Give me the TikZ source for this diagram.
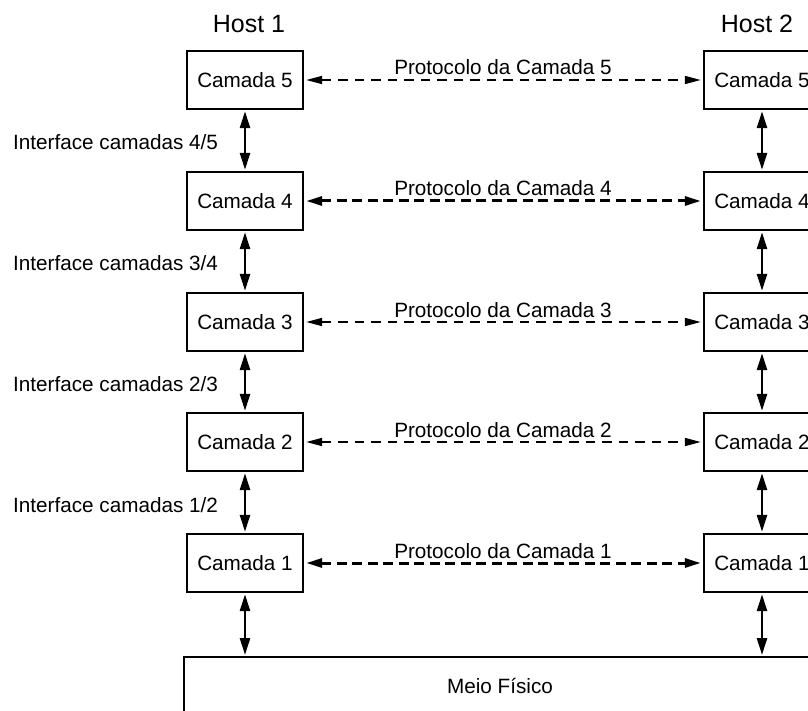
\documentclass[tikz,border=0pt]{standalone}
\usepackage{fontspec}
\setmainfont{Liberation Sans}
\usetikzlibrary{arrows.meta}
\newcommand\txtfs{\fontsize{20.7}{24}\selectfont}
\newcommand\hostfs{\fontsize{25}{29}\selectfont}
\tikzset{
  layer/.style={draw, line width=2.4pt, minimum width=116pt, minimum height=58pt, inner sep=0pt, font=\txtfs},
  vert/.style={line width=2.6pt, {Triangle[length=17pt,width=10pt]}-{Triangle[length=17pt,width=10pt]}, shorten <=1pt, shorten >=1pt},
  protothin/.style={line width=1.6pt, dash pattern=on 9.5pt off 7pt, {Triangle[length=16pt,width=8pt]}-{Triangle[length=16pt,width=8pt]}, shorten <=2pt, shorten >=2pt},
  protothick/.style={line width=3pt, dash pattern=on 10pt off 5.5pt, {Triangle[length=16pt,width=9pt]}-{Triangle[length=16pt,width=9pt]}, shorten <=2pt, shorten >=2pt},
  protolabel/.style={font=\txtfs, anchor=base, inner sep=0pt},
  iflabel/.style={font=\txtfs, anchor=west, inner sep=0pt},
  hostlabel/.style={font=\hostfs, anchor=base, inner sep=0pt}
}
\begin{document}
\begin{tikzpicture}[x=1pt, y=-1pt]
\useasboundingbox (0,0) rectangle (808,711);
\clip (0,0) rectangle (808,711);
\fill[white] (0,0) rectangle (808,711);

\node[hostlabel] (h1) at (249,33) {Host 1};
\node[hostlabel] (h2) at (757,33) {Host 2};

\foreach \n/\y in {5/80,4/201,3/322,2/442,1/563}{
  \node[layer] (l\n) at (245,\y) {Camada \n};
  \node[layer] (r\n) at (762,\y) {Camada \n};
}

\node[draw, line width=2.4pt, minimum width=632pt, minimum height=100pt, inner sep=0pt, anchor=north] (meio) at (500,656) {};
\node[font=\txtfs, inner sep=0pt] (meiotxt) at (500,686) {Meio Físico};

% protocol arrows
\draw[protothin]  (l5) -- (r5);
\draw[protothick] (l4) -- (r4);
\draw[protothin]  (l3) -- (r3);
\draw[protothin]  (l2) -- (r2);
\draw[protothick] (l1) -- (r1);

\node[protolabel] (p5) at (503,75) {Protocolo da Camada 5};
\node[protolabel] (p4) at (503,196) {Protocolo da Camada 4};
\node[protolabel] (p3) at (503,317) {Protocolo da Camada 3};
\node[protolabel] (p2) at (503,437) {Protocolo da Camada 2};
\node[protolabel] (p1) at (503,558) {Protocolo da Camada 1};

% vertical interfaces
\draw[vert] (l5) -- (l4);
\draw[vert] (l4) -- (l3);
\draw[vert] (l3) -- (l2);
\draw[vert] (l2) -- (l1);
\draw[vert] (l1.south) -- (l1.south |- meio.north);
\draw[vert] (r5) -- (r4);
\draw[vert] (r4) -- (r3);
\draw[vert] (r3) -- (r2);
\draw[vert] (r2) -- (r1);
\draw[vert] (r1.south) -- (r1.south |- meio.north);

\node[iflabel] (i45) at (13,142) {Interface camadas 4/5};
\node[iflabel] (i34) at (13,263) {Interface camadas 3/4};
\node[iflabel] (i23) at (13,384) {Interface camadas 2/3};
\node[iflabel] (i12) at (13,505) {Interface camadas 1/2};
\end{tikzpicture}
\end{document}
